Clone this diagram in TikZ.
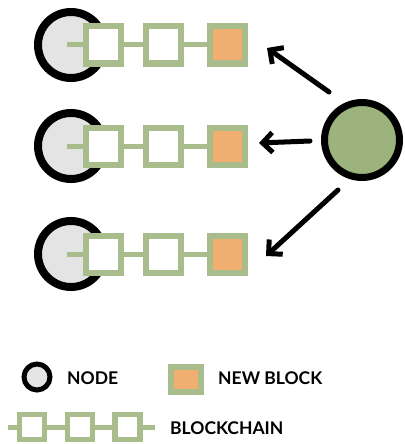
\documentclass[tikz,border=0pt]{standalone}
\usepackage{fontspec}
\setmainfont{Lato}
\usetikzlibrary{arrows.meta}
\definecolor{chaingreen}{HTML}{A9BD8C}
\definecolor{nodegreen}{HTML}{9DB37D}
\definecolor{blockorange}{HTML}{F0AE70}
\definecolor{nodegray}{HTML}{E4E4E4}
\tikzset{
  peer/.style={circle, draw=black, line width=8pt, fill=nodegray, minimum size=66pt, inner sep=0},
  miner/.style={circle, draw=black, line width=7pt, fill=nodegreen, minimum size=75pt, inner sep=0},
  block/.style={rectangle, draw=chaingreen, line width=6pt, fill=white, minimum width=35pt, minimum height=37pt, inner sep=0},
  newblock/.style={block, fill=blockorange},
  smallblock/.style={block, line width=5.5pt, minimum width=25pt, minimum height=25pt},
  link/.style={draw=chaingreen, line width=5pt},
  push/.style={draw=black, line width=5pt, line cap=round, -{Straight Barb[length=10pt,width=20pt,line width=5pt]}},
  legendtext/.style={anchor=west, inner sep=0, font=\fontsize{17.5}{20}\selectfont\bfseries}
}
\begin{document}
\begin{tikzpicture}[x=1pt,y=-1pt]
\useasboundingbox (0,0) rectangle (404,444);

% three peers, each holding a copy of the chain
\foreach \r/\y in {1/45, 2/146, 3/254} {
  \node[peer] (p\r) at (71,\y) {};
  \coordinate (s\r) at (67,\y);
  \node[block] (a\r) at (103,\y) {};
  \node[block] (b\r) at (163,\y) {};
  \node[newblock] (c\r) at (227.5,\y) {};
  \draw[link] (s\r) -- (a\r.west);
  \draw[link] (a\r.east) -- (b\r.west);
  \draw[link] (b\r.east) -- (c\r.west);
}

% the node that mined the new block
\node[miner] (m) at (362,140) {};

\coordinate (t1) at (329,92);
\coordinate (h1) at (267,48);
\coordinate (t2) at (310,141);
\coordinate (h2) at (259,143);
\coordinate (t3) at (338,190);
\coordinate (h3) at (266,256);
\draw[push] (t1) -- (h1);
\draw[push] (t2) -- (h2);
\draw[push] (t3) -- (h3);

% legend
\node[circle, draw=black, line width=5pt, fill=nodegray, minimum size=26pt, inner sep=0] (lp) at (37,377) {};
\node[legendtext] (lpt) at (67,378) {NODE};
\node[newblock, line width=6pt, minimum width=30pt, minimum height=25pt] (lb) at (185.5,379) {};
\node[legendtext] (lbt) at (218,378) {NEW BLOCK};

\coordinate (ls) at (8,427);
\coordinate (le) at (155,427);
\node[smallblock] (l1) at (32,427) {};
\node[smallblock] (l2) at (80,427) {};
\node[smallblock] (l3) at (127.5,427) {};
\draw[link] (ls) -- (l1.west);
\draw[link] (l1.east) -- (l2.west);
\draw[link] (l2.east) -- (l3.west);
\draw[link] (l3.east) -- (le);
\node[legendtext] (lct) at (170,428) {BLOCKCHAIN};
\end{tikzpicture}
\end{document}
